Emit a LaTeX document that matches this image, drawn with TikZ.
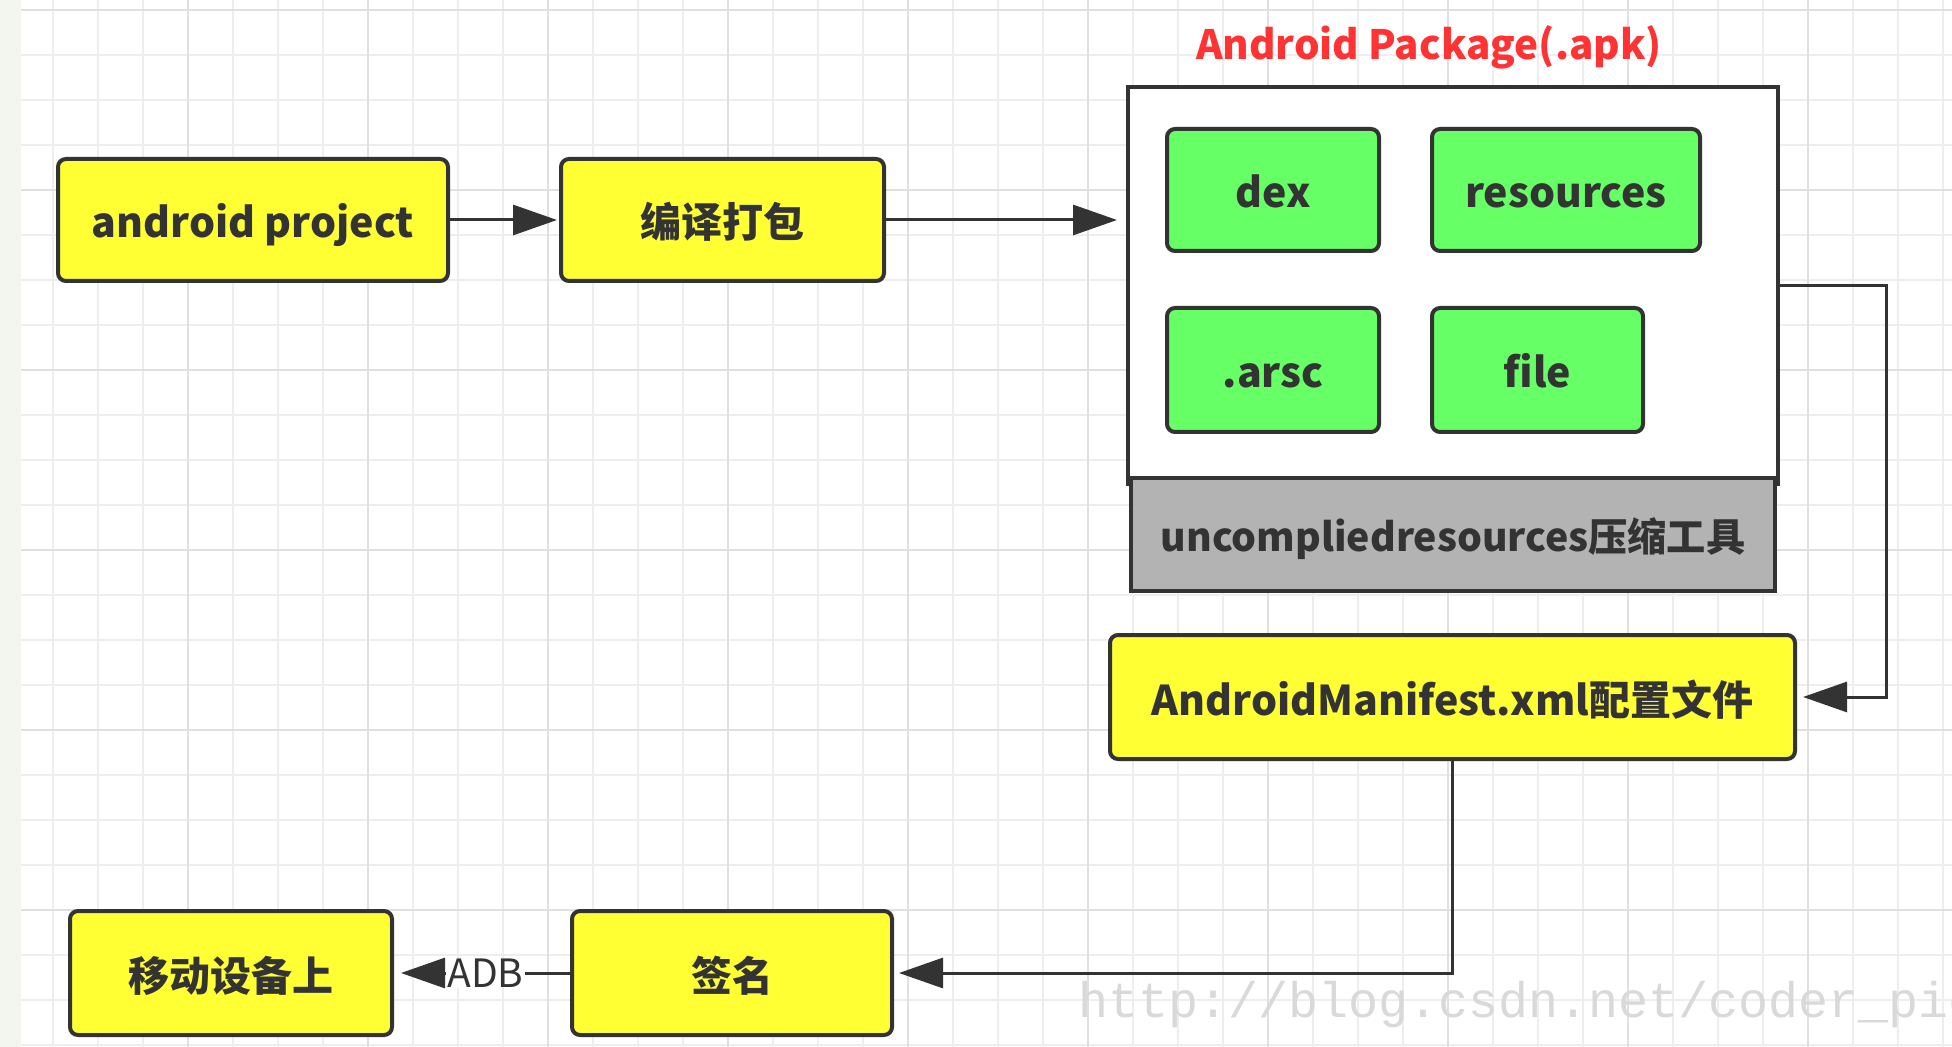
\documentclass[tikz,border=0pt]{standalone}
\usepackage{fontspec}
\setmainfont{Noto Sans CJK SC}
\newfontfamily\wmfont{Liberation Mono}
\usetikzlibrary{arrows.meta}
\definecolor{gridminor}{HTML}{EEEEEE}
\definecolor{gridmajor}{HTML}{E0E0E0}
\definecolor{strip}{HTML}{F3F6EF}
\definecolor{ink}{HTML}{333333}
\definecolor{yel}{HTML}{FFFF33}
\definecolor{grn}{HTML}{66FF66}
\definecolor{gry}{HTML}{B3B3B3}
\definecolor{ttl}{HTML}{FF3333}
\tikzset{
  boxbase/.style={rectangle, draw=ink, line width=2pt, inner sep=0pt, text=ink,
    font=\fontsize{20.5pt}{24pt}\selectfont\bfseries, text height=21.5pt, text depth=3.5pt},
  ybox/.style={boxbase, fill=yel, rounded corners=4pt},
  gbox/.style={boxbase, fill=grn, rounded corners=4pt},
  pkg/.style={boxbase, fill=white},
  graybox/.style={boxbase, fill=gry, font=\fontsize{19.6pt}{23pt}\selectfont\bfseries, text height=20pt},
  conn/.style={draw=ink, line width=1.5pt, -{Triangle[length=22pt,width=15pt]}},
  adb/.style={fill=white, inner sep=0.5pt, text=ink, font=\fontsize{19.5pt}{22pt}\selectfont},
  minorline/.style={draw=gridminor, line width=1pt},
  majorline/.style={draw=gridmajor, line width=1pt}
}
\begin{document}
\begin{tikzpicture}[x=0.5pt,y=-0.5pt]
\useasboundingbox (0,0) rectangle (1952,1047);
\fill[white] (0,0) rectangle (1952,1047);
\begin{scope}
\clip (0,0) rectangle (1952,1047);
\foreach \i in {0,...,43} \draw[minorline] ({7.5+45*\i},0) -- ({7.5+45*\i},1047);
\foreach \j in {0,...,23} \draw[minorline] (0,{10+45*\j}) -- (1952,{10+45*\j});
\foreach \i in {0,...,10} \draw[majorline] ({7.5+180*\i},0) -- ({7.5+180*\i},1047);
\foreach \j in {0,...,5} \draw[majorline] (0,{10+180*\j}) -- (1952,{10+180*\j});
\fill[strip] (0,0) rectangle (21,1047);

\node[ybox, minimum width=195pt, minimum height=61pt] (ap) at (253,220) {android project};
\node[ybox, minimum width=161.5pt, minimum height=61pt] (bd) at (722.5,220) {编译打包};

\node[font=\fontsize{20.2pt}{24pt}\selectfont\bfseries, text=ttl] (title) at (1429,47) {Android Package(.apk)};
\node[pkg, minimum width=325pt, minimum height=198.5pt] (apk) at (1453,285.5) {};
\node[gbox, minimum width=106pt, minimum height=61pt] (dex) at (1273,190) {dex};
\node[gbox, minimum width=134pt, minimum height=61pt] (res) at (1566,190) {resources};
\node[gbox, minimum width=106pt, minimum height=62pt] (arsc) at (1273,370) {.arsc};
\node[gbox, minimum width=105.5pt, minimum height=62pt] (file) at (1537.5,370) {file};
\node[graybox, minimum width=322pt, minimum height=56.5pt] (unc) at (1453,534.5) {uncompliedresources压缩工具};

\node[ybox, minimum width=342.5pt, minimum height=62pt] (man) at (1452.5,697) {AndroidManifest.xml配置文件};
\node[ybox, minimum width=160pt, minimum height=62pt] (sign) at (732,973) {签名};
\node[ybox, minimum width=161pt, minimum height=62pt] (dev) at (231,973) {移动设备上};

\coordinate (r1) at (1886,0);
\draw[conn] (ap.east) -- ([xshift=-1pt]bd.west);
\draw[conn] (bd.east) -- ([xshift=-4.5pt]apk.west |- bd.east);
\draw[conn] (apk.east) -- (apk.east -| r1) |- ([xshift=3pt]man.east);
\draw[conn] (man.south) |- ([xshift=2.5pt]sign.east);
\draw[conn] (sign.west) -- node[adb] (adbl) {ADB} ([xshift=3.5pt]dev.east);

\node[anchor=base west, font=\wmfont\fontsize{25pt}{28pt}\selectfont, text=gray!30] (wm) at (1071,1017) {http://blog.csdn.net/coder\_pig};
\end{scope}
\end{tikzpicture}
\end{document}
